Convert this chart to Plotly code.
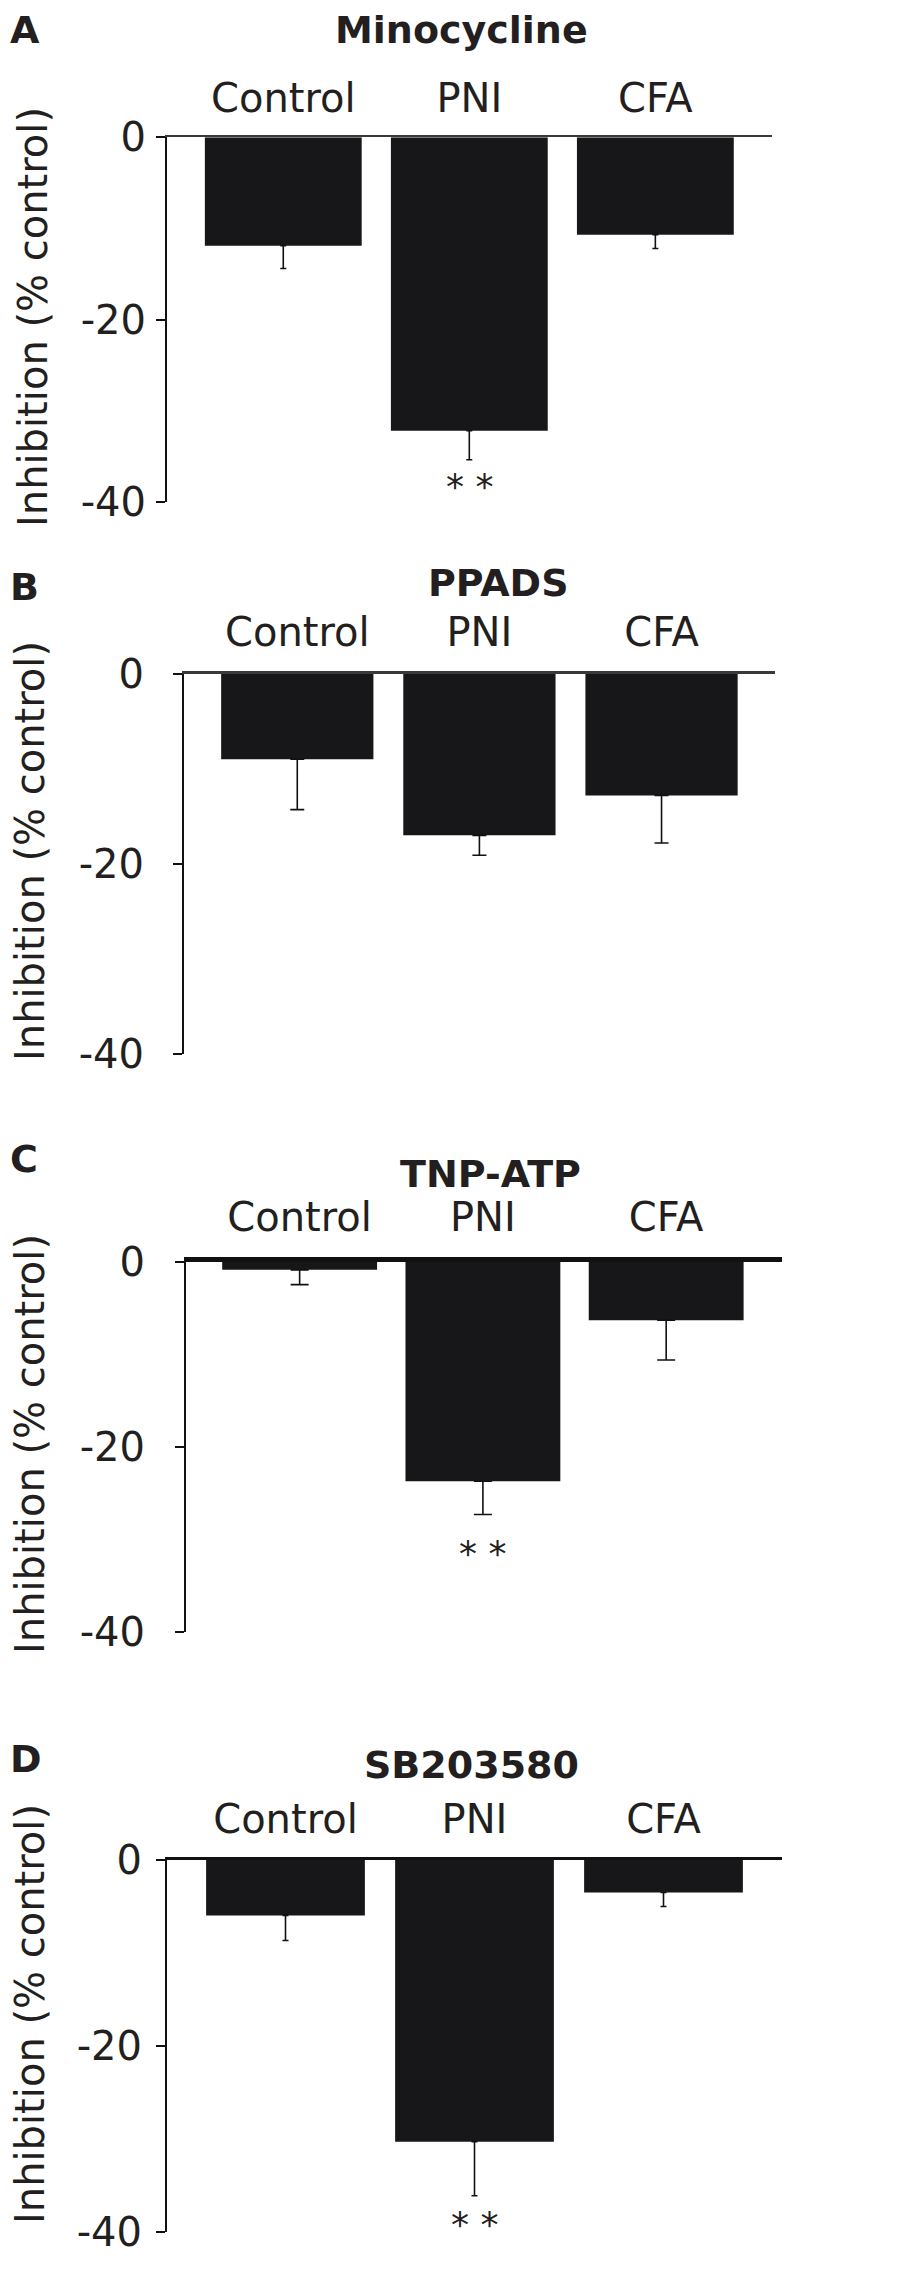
import plotly.graph_objects as go

# ---------------- data ----------------
categories = ["Control", "PNI", "CFA"]
panel_letters = ["A", "B", "C", "D"]
panel_titles = ["Minocycline", "PPADS", "TNP-ATP", "SB203580"]

minocycline_mean = [-11.9, -32.2, -10.7]
minocycline_sem = [2.5, 3.2, 1.5]
ppads_mean = [-9.0, -17.0, -12.8]
ppads_sem = [5.3, 2.1, 5.0]
tnpatp_mean = [-0.85, -23.7, -6.3]
tnpatp_sem = [1.6, 3.6, 4.3]
sb203580_mean = [-6.0, -30.3, -3.55]
sb203580_sem = [2.7, 5.8, 1.5]

significance_text = "* *"
significance_category = "PNI"
significance_y = [-37.5, None, -30.7, -38.3]

y_tick_values = [0, -20, -40]
y_tick_text = ["0", "-20", "-40"]
y_title = "Inhibition (% control)"

means = [minocycline_mean, ppads_mean, tnpatp_mean, sb203580_mean]
sems = [minocycline_sem, ppads_sem, tnpatp_sem, sb203580_sem]

# ---------------- layout geometry (page pixels) ----------------
W, H = 908, 2293
OFF = 8  # page body margin
# axis x-left, axis x-right, y of zero line, y of -40
geom = [
    (167, 772, 137.3, 501.7),
    (184, 775, 673.7, 1054.0),
    (186, 782, 1262.0, 1632.0),
    (167, 782, 1859.5, 2232.0),
]
x_ranges = [
    [-0.625, 2.627],
    [-0.622, 2.623],
    [-0.620, 2.632],
    [-0.627, 2.627],
]
bar_widths = [0.843, 0.836, 0.845, 0.84]
zero_line_widths = [2, 2.5, 5, 3]
zero_line_colors = ["#3a3a3a", "#3a3a3a", "#111111", "#111111"]
cap_widths = [3, 7, 9, 3]
y_standoffs = [2, 21, 22, 6]
x_standoffs = [7, 9, 10, 8]
title_pos = [(461, 30), (498, 583), (490, 1174), (471, 1765)]
letter_pos = [(8, 30), (8, 587), (8, 1159), (8, 1759)]
ytitle_pos = [(33, 317), (30, 851), (30, 1444), (30, 2014)]

TXT = "#231f20"
BAR = "#17171a"
FONT = "DejaVu Sans"


def px(x):
    return (x - OFF) / W


def py(y):
    return 1 - (y - OFF) / H


fig = go.Figure()
annotations = []
for i in range(4):
    xl, xr, y0, y40 = geom[i]
    n = "" if i == 0 else str(i + 1)
    fig.add_trace(go.Bar(
        x=categories, y=means[i], width=bar_widths[i],
        marker=dict(color=BAR, line=dict(width=0)),
        error_y=dict(type="data", symmetric=False, array=[0, 0, 0],
                     arrayminus=sems[i], color="#111111",
                     thickness=1.6, width=cap_widths[i]),
        xaxis="x" + n, yaxis="y" + n, showlegend=False,
    ))
    fig.layout["xaxis" + n] = dict(
        domain=[px(xl), px(xr)], range=x_ranges[i], anchor="y" + n,
        side="top", type="category", showline=True,
        linecolor=zero_line_colors[i], linewidth=zero_line_widths[i],
        ticks="", showgrid=False, zeroline=False, automargin=False,
        ticklabelstandoff=x_standoffs[i],
        tickfont=dict(family=FONT, size=40, color=TXT),
        fixedrange=True,
    )
    fig.layout["yaxis" + n] = dict(
        domain=[py(y40), py(y0)], range=[-40, 0], anchor="x" + n,
        showline=True, linecolor="#111111", linewidth=2,
        ticks="outside", ticklen=9, tickwidth=2, tickcolor="#111111",
        tickvals=y_tick_values, ticktext=y_tick_text,
        ticklabelstandoff=y_standoffs[i], automargin=False,
        tickfont=dict(family=FONT, size=40, color=TXT),
        showgrid=False, zeroline=False, fixedrange=True,
    )
    tx, ty = title_pos[i]
    annotations.append(dict(
        text="<b>%s</b>" % panel_titles[i], x=px(tx), y=py(ty),
        xref="paper", yref="paper", xanchor="center", yanchor="middle",
        showarrow=False, font=dict(family=FONT, size=38, color=TXT)))
    lx, ly = letter_pos[i]
    annotations.append(dict(
        text="<b>%s</b>" % panel_letters[i], x=px(lx), y=py(ly),
        xref="paper", yref="paper", xanchor="left", yanchor="middle",
        showarrow=False, font=dict(family=FONT, size=38, color=TXT)))
    ax_, ay_ = ytitle_pos[i]
    annotations.append(dict(
        text=y_title, x=px(ax_), y=py(ay_), textangle=-90,
        xref="paper", yref="paper", xanchor="center", yanchor="middle",
        showarrow=False, font=dict(family=FONT, size=40, color=TXT)))
    if significance_y[i] is not None:
        annotations.append(dict(
            text=significance_text, x=significance_category,
            y=significance_y[i], xref="x" + n, yref="y" + n,
            xanchor="center", yanchor="middle", yshift=-8,
            showarrow=False, font=dict(family=FONT, size=36, color=TXT)))

fig.update_layout(
    width=W, height=H, autosize=False,
    margin=dict(l=0, r=0, t=0, b=0, pad=0, autoexpand=False),
    paper_bgcolor="white", plot_bgcolor="white",
    annotations=annotations, bargap=0.16,
)

fig.write_html("out.html")
